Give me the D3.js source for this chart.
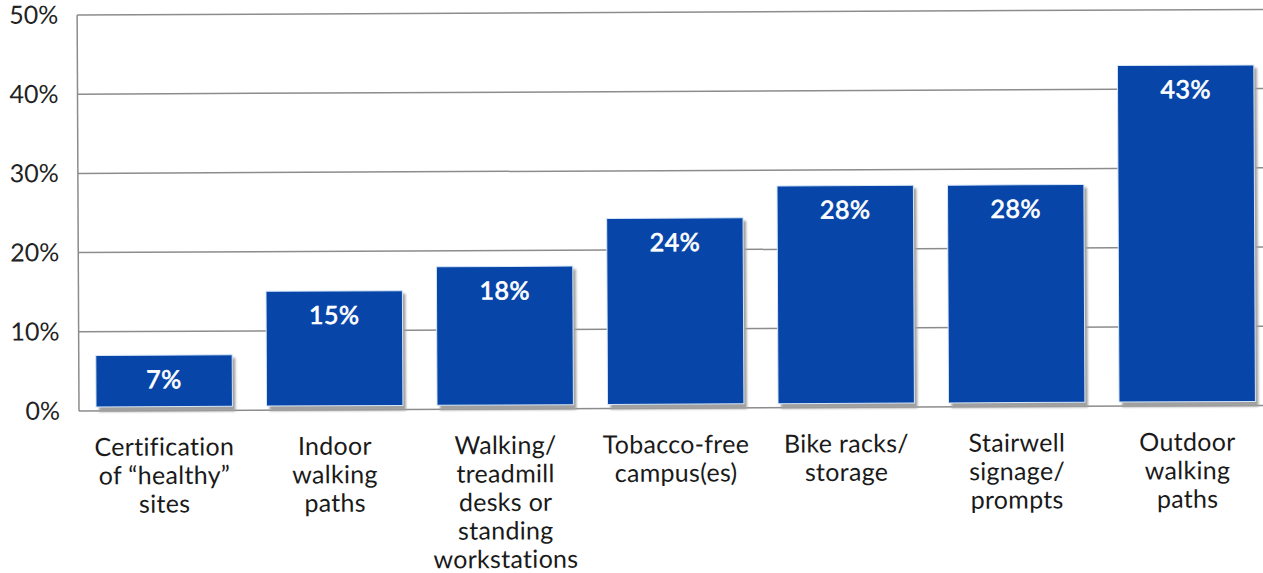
<!DOCTYPE html>
<html>
<head>
<meta charset="utf-8">
<script src="https://cdn.jsdelivr.net/npm/d3@7"></script>
<style>
  html, body { margin: 0; padding: 0; background: #fff; }
  svg { display: block; }
  text { font-family: Lato, "Open Sans", sans-serif; font-variant-ligatures: none; }
</style>
</head>
<body>
<svg id="chart" width="1263" height="573"></svg>
<script>
// Workplace features (share of respondents)
const categories = [
  ["Certification", "of \u201Chealthy\u201D", "sites"],
  ["Indoor", "walking", "paths"],
  ["Walking/", "treadmill", "desks or", "standing", "workstations"],
  ["Tobacco-free", "campus(es)"],
  ["Bike racks/", "storage"],
  ["Stairwell", "signage/", "prompts"],
  ["Outdoor", "walking", "paths"]
];
const values = [7, 15, 18, 24, 28, 28, 43];
const yTicks = [0, 10, 20, 30, 40, 50];

(function draw() {
  const svg = d3.select("#chart");
  const W = 1263;
  const plotLeft = 79, plotBase = 411, plotTop = 15;
  const step = 170.5;

  const defs = svg.append("defs");
  defs.append("filter").attr("id", "soft")
    .attr("x", "-10%").attr("y", "-10%").attr("width", "120%").attr("height", "120%")
    .append("feGaussianBlur").attr("stdDeviation", 1);

  // The whole chart sits very slightly tilted
  const g = svg.append("g").attr("transform", `rotate(-0.27, ${plotLeft}, ${plotBase})`);

  const x = d3.scaleBand()
    .domain(d3.range(categories.length))
    .range([plotLeft, plotLeft + step * categories.length])
    .paddingInner(0.2)
    .paddingOuter(0.1);

  const y = d3.scaleLinear().domain([0, 50]).range([plotBase, plotTop]);

  // Gridlines
  g.append("g")
    .selectAll("line")
    .data(yTicks)
    .join("line")
    .attr("x1", plotLeft)
    .attr("x2", W + 10)
    .attr("y1", d => y(d))
    .attr("y2", d => y(d))
    .attr("stroke", "#8c8c8c")
    .attr("stroke-width", 1.5);

  // Left axis line
  g.append("line")
    .attr("x1", plotLeft).attr("x2", plotLeft)
    .attr("y1", y(50)).attr("y2", y(0))
    .attr("stroke", "#8c8c8c").attr("stroke-width", 1.5);

  // Tick labels
  const yAxis = d3.axisLeft(y)
    .tickValues(yTicks)
    .tickFormat(d => d + "%")
    .tickSize(0)
    .tickPadding(19);
  const ya = g.append("g").attr("transform", `translate(${plotLeft},0)`).call(yAxis);
  ya.select(".domain").remove();
  ya.selectAll("text")
    .attr("font-family", "Lato, 'Open Sans', sans-serif")
    .attr("font-size", 25)
    .attr("fill", "#222");

  // Bar shadows
  g.append("g")
    .selectAll("rect")
    .data(values)
    .join("rect")
    .attr("x", (d, i) => x(i) + 3)
    .attr("y", d => y(d) + 3)
    .attr("width", x.bandwidth())
    .attr("height", d => y(0) - y(d) - 2)
    .attr("fill", "#a0a0a0")
    .attr("filter", "url(#soft)");

  // Bars
  g.append("g")
    .selectAll("rect")
    .data(values)
    .join("rect")
    .attr("x", (d, i) => x(i))
    .attr("y", d => y(d))
    .attr("width", x.bandwidth())
    .attr("height", d => y(0) - y(d) - 4)
    .attr("fill", "#0746a8")
    .attr("stroke", "#d6e6f7")
    .attr("stroke-width", 1);

  // Value labels inside bars
  g.append("g")
    .selectAll("text")
    .data(values)
    .join("text")
    .attr("x", (d, i) => x(i) + x.bandwidth() / 2)
    .attr("y", d => y(d) + 33)
    .attr("text-anchor", "middle")
    .attr("font-size", 25)
    .attr("letter-spacing", 0.5)
    .attr("fill", "#fff")
    .attr("stroke", "#fff")
    .attr("stroke-width", 0.7)
    .text(d => d + "%");

  // Category labels
  const cat = g.append("g")
    .selectAll("text")
    .data(categories)
    .join("text")
    .attr("x", (d, i) => x(i) + x.bandwidth() / 2)
    .attr("y", 456)
    .attr("text-anchor", "middle")
    .attr("font-size", 25)
    .attr("letter-spacing", 0.3)
    .attr("fill", "#1a1a1a");
  cat.selectAll("tspan")
    .data(d => d)
    .join("tspan")
    .attr("x", function () { return this.parentNode.getAttribute("x"); })
    .attr("dy", (d, j) => j === 0 ? 0 : 28.5)
    .text(d => d);
})();
</script>
</body>
</html>
